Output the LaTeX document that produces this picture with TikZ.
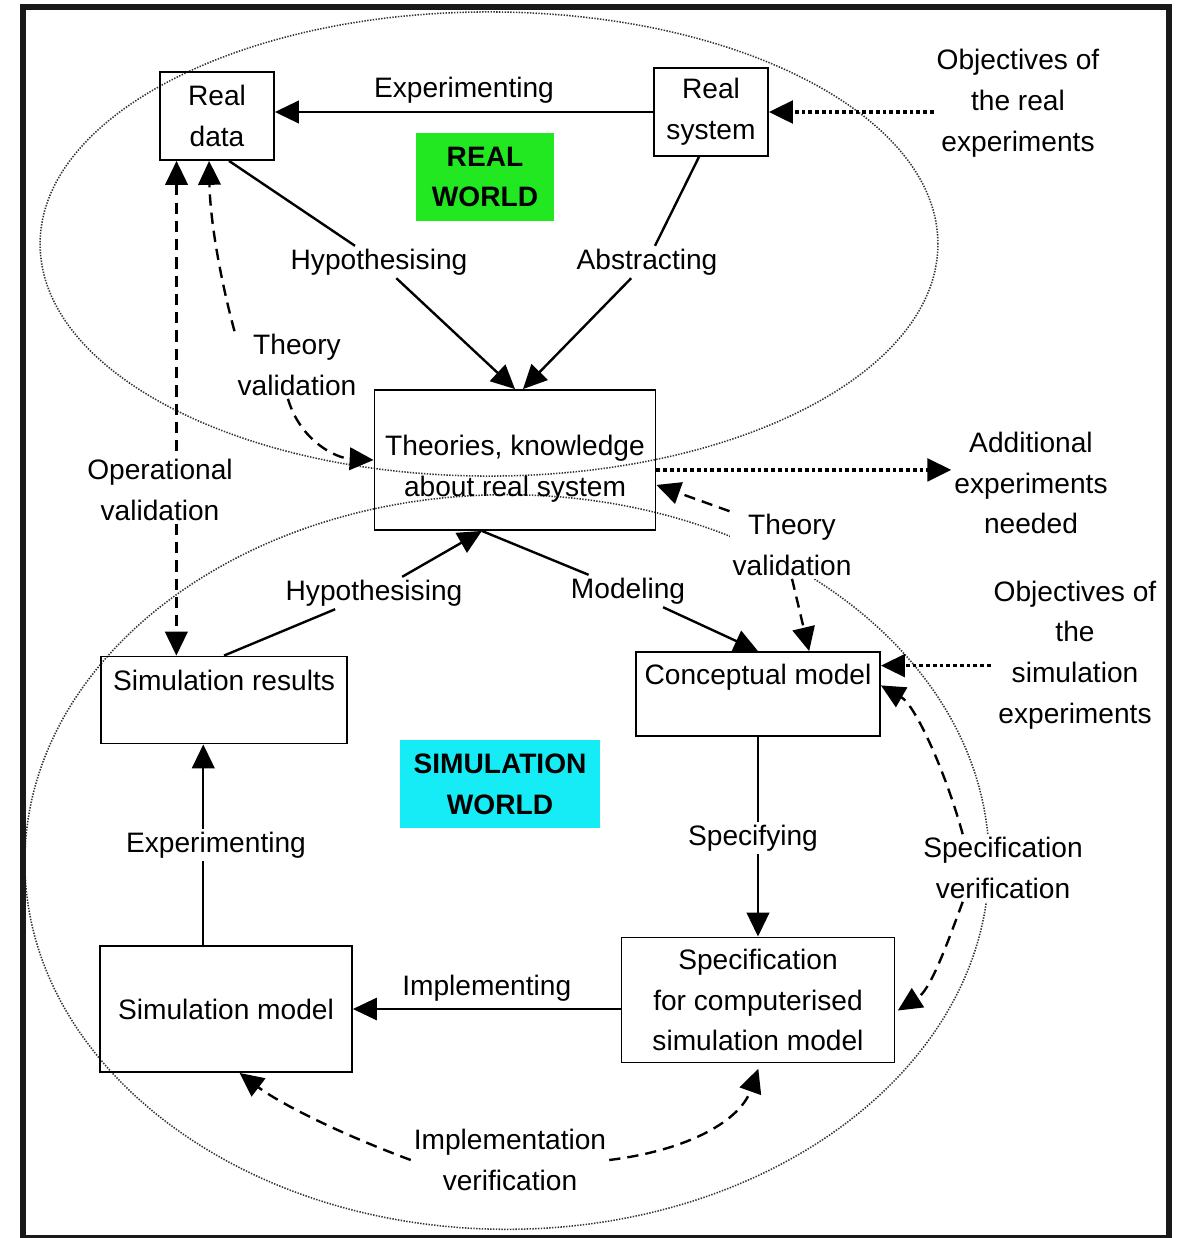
\documentclass[tikz,border=0pt]{standalone}
\usepackage{fontspec}
\setmainfont{Liberation Sans}
\usetikzlibrary{arrows.meta, positioning, backgrounds}
\definecolor{realgreen}{RGB}{34,232,34}
\definecolor{simcyan}{RGB}{22,236,246}

\begin{document}
\begin{tikzpicture}[
    x=0.025cm, y=-0.025cm,
    >={Triangle[length=17pt, width=16pt]},
    every node/.style={font=\fontsize{20}{29}\selectfont},
    box/.style={draw, line width=1.3pt, align=center, inner sep=0pt},
    tag/.style={align=center, inner sep=0pt, font=\fontsize{20}{29}\selectfont\bfseries},
    lbl/.style={fill=white, align=center, inner sep=2pt},
    link/.style={line width=1.7pt},
    dlink/.style={line width=1.7pt, dash pattern=on 8pt off 5pt},
    olink/.style={line width=2.6pt, dash pattern=on 2.6pt off 2.2pt},
    worldedge/.style={dash pattern=on 1pt off 1pt, line width=1.1pt, black!80}
]
    \useasboundingbox (0,0) rectangle (1184,1238);

    % Boxes
    \node[box, minimum width=2.85cm, minimum height=2.2cm] (rd) at (217,116) {Real\\data};
    \node[box, minimum width=2.85cm, minimum height=2.2cm] (rs) at (711,112) {Real\\system};
    \node[box, minimum width=7.025cm, minimum height=3.5cm] (thy) at (515,460) {};
    \node[align=center] (thyt) at (515,469) {Theories, knowledge\\about real system};
    \node[box, minimum width=6.15cm, minimum height=2.175cm] (sr) at (224,700) {};
    \node[below=7pt of sr.north] (srt) {Simulation results};
    \node[box, minimum width=6.1cm, minimum height=2.1cm] (cm) at (758,694) {};
    \node[below=6pt of cm.north] (cmt) {Conceptual model};
    \node[box, minimum width=6.3cm, minimum height=3.15cm] (sm) at (226,1009) {Simulation model};
    \node[box, minimum width=6.825cm, minimum height=3.125cm] (spec) at (758,1000) {Specification\\for computerised\\simulation model};

    % World tags
    \node[tag, fill=realgreen, minimum width=3.425cm, minimum height=2.175cm] (rw) at (485,177) {REAL\\WORLD};
    \node[tag, fill=simcyan, minimum width=5cm, minimum height=2.2cm] (sw) at (500,784) {SIMULATION\\WORLD};

    % Labels
    \node[lbl] (objr) at (1018,103) {Objectives of\\the real\\experiments};
    \node[lbl] (hyp1) at (379,262) {Hypothesising};
    \node[lbl] (abs) at (647,262) {Abstracting};
    \node[lbl] (tv1) at (297,365) {Theory\\validation};
    \node[lbl] (opv) at (160,490) {Operational\\validation};
    \node[lbl] (addx) at (1031,483) {Additional\\experiments\\needed};
    \node[lbl] (tv2) at (792,545) {Theory\\validation};
    \node[lbl] (hyp2) at (374,593) {Hypothesising};
    \node[lbl] (mod) at (628,591) {Modeling};
    \node[lbl] (objs) at (1075,655) {Objectives of\\the\\simulation\\experiments};
    \node[lbl] (spc) at (753,838) {Specifying};
    \node[lbl] (spv) at (1003,868) {Specification\\verification};
    \node[lbl] (exp2) at (216,845) {Experimenting};
    \node[lbl] (imv) at (510,1160) {Implementation\\verification};

    % Real world links
    \draw[link, ->] (rs.west) -- node[above=2pt] (exp1) {Experimenting} (rd.east |- rs.west);
    \draw[olink, ->] (objr.west |- rs.east) -- (rs.east);
    \draw[link] (rd.-75) -- (hyp1);
    \draw[link, ->] (hyp1) -- (thy.north);
    \draw[link] (rs.-105) -- (abs);
    \draw[link, ->] (abs) -- ([xshift=0.2cm]thy.north);
    \draw[dlink, ->] (tv1.north west) .. controls (218,270) and (210,215) .. (rd.-100);
    \draw[dlink, ->] (tv1.-105) .. controls (300,440) and (335,458) .. (thy.west);
    \draw[dlink, <-] (rd.-132) -- (rd.-132 |- opv.north);
    \draw[dlink, ->] (sr.137 |- opv.south) -- (sr.137);
    \draw[olink, ->] (thy.-4) -- (addx.west |- thy.-4);
    \draw[dlink, ->] (tv2.north west) -- (thy.-10);
    \draw[dlink, ->] (tv2.south) -- (cm.40);

    % Simulation world links
    \draw[link] (sr.north) -- (hyp2);
    \draw[link, ->] (hyp2) -- (thy.-115);
    \draw[link] (thy.-115) -- (mod);
    \draw[link, ->] (mod) -- (cm.north);
    \draw[olink, ->] (objs.west |- cm.13) -- (cm.13);
    \draw[link] (cm.south) -- (cm.south |- spc.north);
    \draw[link, ->] (spec.north |- spc.south) -- (spec.north);
    \draw[dlink, ->] (spv.140) .. controls (945,770) and (915,705) .. (cm.4);
    \draw[dlink, ->, shorten >=2pt] (spv.-140) .. controls (945,950) and (930,990) .. (spec.-5);
    \draw[line width=0.8pt, ->] (spec.west |- sm.east) -- node[above=2pt] (impl) {Implementing} (sm.east);
    \draw[dlink, ->] (imv.west) .. controls (330,1130) and (275,1100) .. (sm.-78);
    \draw[dlink, ->, shorten >=4pt] (imv.east) .. controls (690,1150) and (740,1120) .. (spec.-88);
    \draw[link] (sm.110) -- (sm.110 |- exp2.south);
    \draw[link, ->] (sr.-115 |- exp2.north) -- (sr.-115);

    % Worlds and frame
    \begin{scope}[on background layer]
        \fill[white] (0,0) rectangle (1184,1238);
        \draw[worldedge] (489,244) ellipse [x radius=11.22cm, y radius=5.8cm];
        \draw[worldedge] (507,862) ellipse [x radius=12.05cm, y radius=9.18cm];
    \end{scope}
    \draw[line width=4.3pt, black!90] (23,7) rectangle (1169,1238);
\end{tikzpicture}
\end{document}
